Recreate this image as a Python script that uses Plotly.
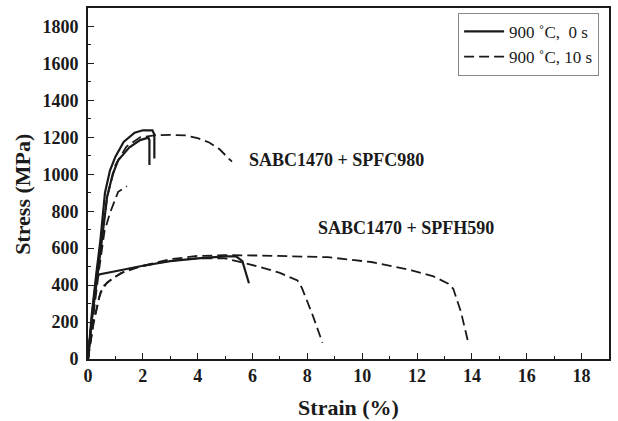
import plotly.graph_objects as go

# ---- data (strain %, stress MPa) ----
spfc980_0s_a_x = [0, 0.13, 0.3, 0.45, 0.62, 0.8, 1.0, 1.3, 1.7, 2.0, 2.35, 2.42, 2.42]
spfc980_0s_a_y = [0, 230, 460, 640, 900, 1020, 1095, 1175, 1225, 1238, 1238, 1215, 1085]
spfc980_0s_b_x = [0, 0.15, 0.35, 0.5, 0.7, 0.9, 1.1, 1.5, 1.9, 2.2, 2.24, 2.24]
spfc980_0s_b_y = [0, 225, 455, 650, 880, 1000, 1075, 1145, 1185, 1198, 1185, 1050]

spfc980_10s_a_x = [0, 0.2, 0.45, 0.7, 1.0, 1.4, 1.9, 2.5, 3.0, 3.55, 4.0, 4.42, 4.8, 5.25]
spfc980_10s_a_y = [0, 280, 600, 880, 1050, 1150, 1200, 1212, 1213, 1210, 1195, 1172, 1135, 1068]
spfc980_10s_b_x = [0, 0.2, 0.4, 0.6, 0.8, 1.1, 1.42]
spfc980_10s_b_y = [0, 250, 480, 690, 790, 905, 935]

spfh590_0s_x = [0, 0.1, 0.2, 0.3, 0.4, 1.0, 2.0, 3.0, 4.0, 5.0, 5.4, 5.63, 5.87]
spfh590_0s_y = [0, 160, 310, 430, 458, 475, 505, 530, 545, 555, 555, 530, 410]

spfh590_10s_a_x = [0, 0.2, 0.4, 0.56, 0.93, 1.5, 2.9, 4.0, 5.0, 5.8, 6.3, 7.0, 7.64, 7.8, 8.2, 8.55]
spfh590_10s_a_y = [0, 200, 330, 395, 440, 488, 530, 545, 545, 515, 497, 466, 425, 385, 235, 88]
spfh590_10s_b_x = [0, 0.2, 0.45, 0.7, 1.2, 2.0, 3.0, 4.0, 5.0, 6.3, 8.74, 10.33, 11.8, 12.6, 13.14, 13.32, 13.6, 13.85]
spfh590_10s_b_y = [0, 190, 360, 415, 465, 505, 540, 558, 562, 560, 551, 525, 480, 447, 408, 380, 255, 100]

legend_names = ["900 \u02daC,  0 s", "900 \u02daC, 10 s"]
annotations_text = ["SABC1470 + SPFC980", "SABC1470 + SPFH590"]
annotations_pos = [(9.05, 1077), (11.6, 709)]
y_title = "Stress (MPa)"
x_title = "Strain (%)"

x_ticks = list(range(0, 19, 2))
y_ticks = list(range(0, 1801, 200))

SERIF = "Liberation Serif"
INK = "#1a1a1a"

fig = go.Figure()

solid = [(spfc980_0s_a_x, spfc980_0s_a_y), (spfc980_0s_b_x, spfc980_0s_b_y),
         (spfh590_0s_x, spfh590_0s_y)]
dashed = [(spfc980_10s_a_x, spfc980_10s_a_y), (spfc980_10s_b_x, spfc980_10s_b_y),
          (spfh590_10s_a_x, spfh590_10s_a_y), (spfh590_10s_b_x, spfh590_10s_b_y)]

for i, (xs, ys) in enumerate(solid):
    fig.add_trace(go.Scatter(x=xs, y=ys, mode="lines", name=legend_names[0],
                             legendgroup="s", showlegend=(i == 0),
                             line=dict(color=INK, width=2.2)))
for i, (xs, ys) in enumerate(dashed):
    fig.add_trace(go.Scatter(x=xs, y=ys, mode="lines", name=legend_names[1],
                             legendgroup="d", showlegend=(i == 0),
                             line=dict(color=INK, width=1.8, dash="10px,5px")))

for txt, (ax, ay) in zip(annotations_text, annotations_pos):
    fig.add_annotation(x=ax, y=ay, text="<b>%s</b>" % txt, showarrow=False,
                       font=dict(family=SERIF, size=18, color=INK))

# y-axis title placed as a rotated paper annotation
fig.add_annotation(xref="paper", yref="paper", x=-0.127, y=0.47,
                   xanchor="center", yanchor="middle", textangle=-90,
                   text="<b>%s</b>" % y_title, showarrow=False,
                   font=dict(family=SERIF, size=22, color=INK))

axis_common = dict(showline=True, linewidth=1.6, linecolor=INK, mirror=True,
                   ticks="inside", ticklen=6, tickwidth=1.4, tickcolor=INK,
                   showgrid=False, zeroline=False, automargin=False,
                   tickfont=dict(family=SERIF, size=18, color=INK))

fig.update_xaxes(range=[0, 19], tickvals=x_ticks, ticktext=["<b>%d</b>" % v for v in x_ticks],
                 minor=dict(ticks="inside", dtick=1, ticklen=3, tickwidth=1.2, tickcolor=INK),
                 title=dict(text="<b>%s</b>" % x_title, font=dict(family=SERIF, size=22, color=INK),
                            standoff=14),
                 **axis_common)
fig.update_yaxes(range=[0, 1900], tickvals=y_ticks, ticktext=["<b>%d</b>" % v for v in y_ticks],
                 minor=dict(ticks="inside", dtick=100, ticklen=3, tickwidth=1.2, tickcolor=INK),
                 ticklabelstandoff=4,
                 **axis_common)

fig.update_layout(
    width=618, height=421,
    margin=dict(l=88, r=9, t=8, b=62),
    paper_bgcolor="white", plot_bgcolor="white",
    showlegend=True,
    legend=dict(x=0.981, y=0.986, xanchor="right", yanchor="top",
                bgcolor="white", bordercolor="#888", borderwidth=1,
                font=dict(family=SERIF, size=17, color=INK),
                tracegroupgap=0, itemwidth=40),
)

fig.write_html("out.html", config={"displayModeBar": False},
               post_script="document.body.style.margin='0';document.body.style.overflow='hidden';")
